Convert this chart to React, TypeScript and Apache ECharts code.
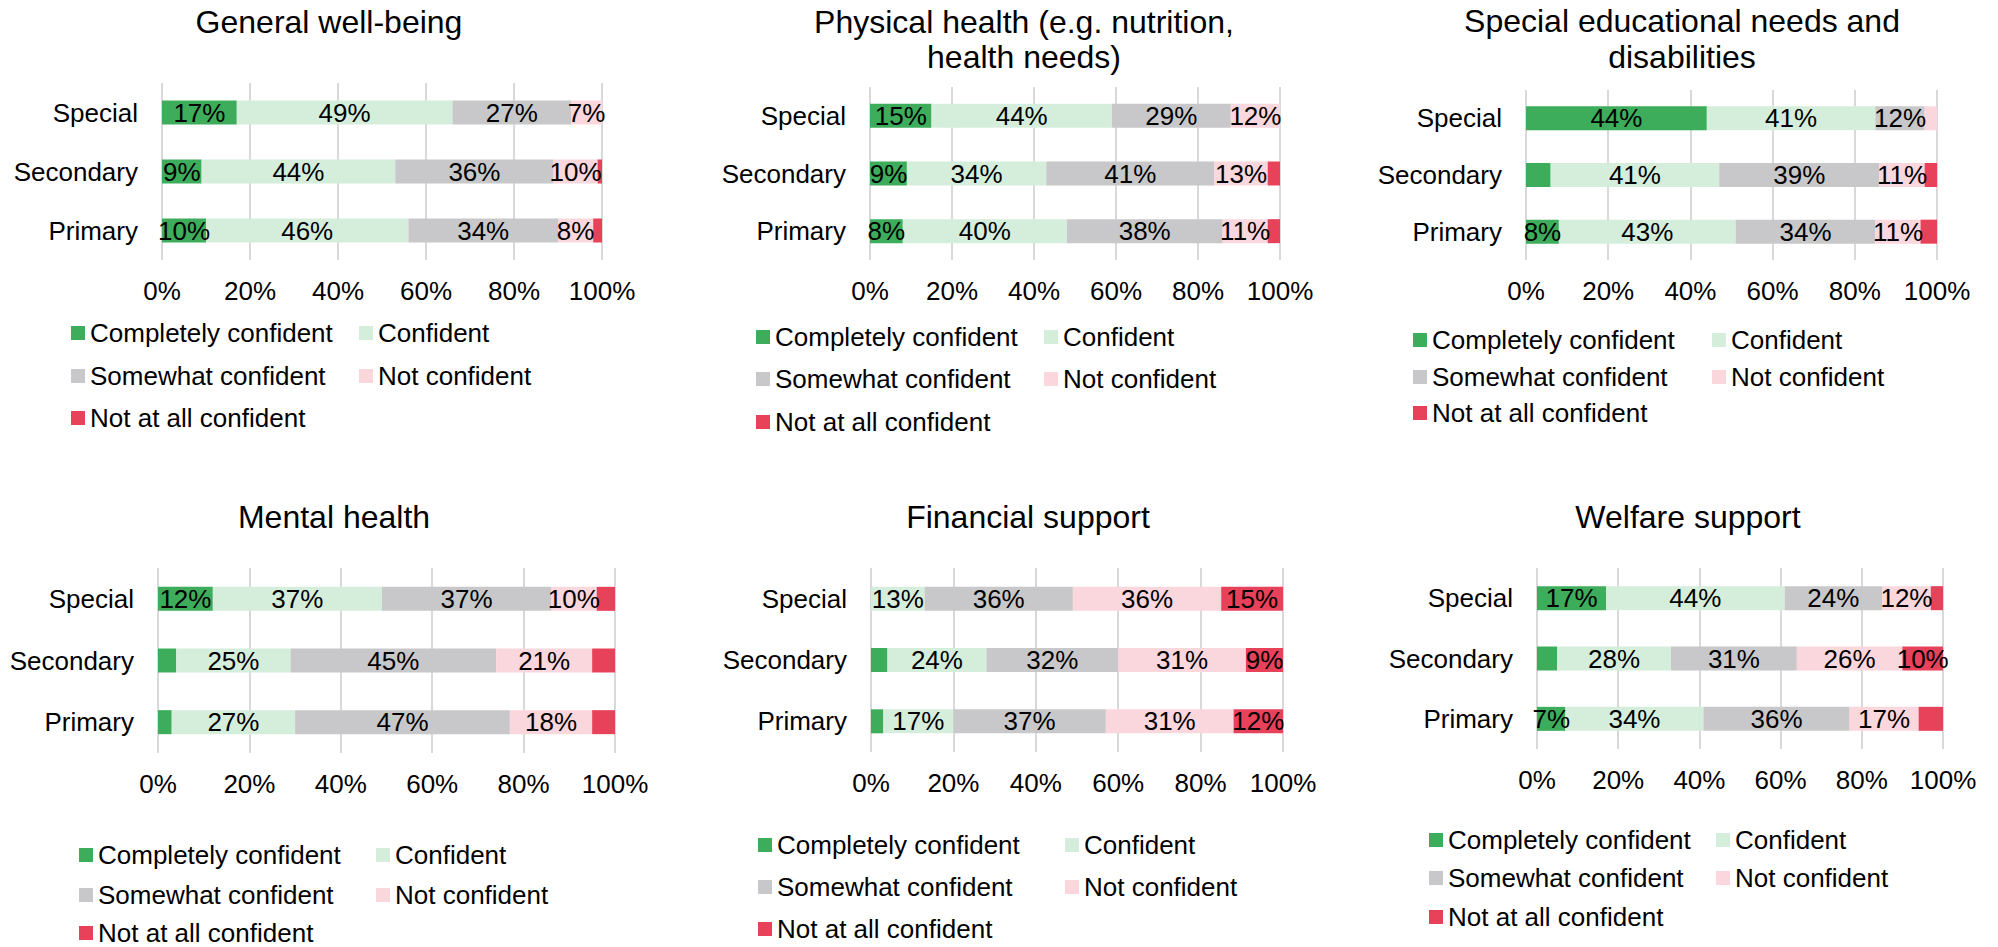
import React, { useEffect, useRef } from "react";
import * as echarts from "echarts";

const categories = ["Special", "Secondary", "Primary"];
const levels = [
  "Completely confident",
  "Confident",
  "Somewhat confident",
  "Not confident",
  "Not at all confident",
];
const levelColors = ["#3DAD5B", "#D5EEDC", "#C8C8CA", "#FAD6DD", "#E8415A"];

const titles = [
  "General well-being",
  "Physical health (e.g. nutrition,\nhealth needs)",
  "Special educational needs and\ndisabilities",
  "Mental health",
  "Financial support",
  "Welfare support",
];

// values per level: [Special, Secondary, Primary]
const wellbeing = [[17, 9, 10], [49, 44, 46], [27, 36, 34], [7, 10, 8], [0, 1, 2]];
const physical = [[15, 9, 8], [44, 34, 40], [29, 41, 38], [12, 13, 11], [0, 3, 3]];
const send = [[44, 6, 8], [41, 41, 43], [12, 39, 34], [3, 11, 11], [0, 3, 4]];
const mental = [[12, 4, 3], [37, 25, 27], [37, 45, 47], [10, 21, 18], [4, 5, 5]];
const financial = [[0, 4, 3], [13, 24, 17], [36, 32, 37], [36, 31, 31], [15, 9, 12]];
const welfare = [[17, 5, 7], [44, 28, 34], [24, 31, 36], [12, 26, 17], [3, 10, 6]];

const panelData = [wellbeing, physical, send, mental, financial, welfare];

const layouts = [
  { tx: 329, ty: 4, tlh: 35, gl: 162, gr: 602, gt: 83, gb: 260, lx1: 71, lx2: 359, ly: [333, 376, 418] },
  { tx: 1024, ty: 4, tlh: 35, gl: 870, gr: 1280, gt: 87, gb: 260, lx1: 756, lx2: 1044, ly: [337, 379, 422] },
  { tx: 1682, ty: 3, tlh: 36, gl: 1526, gr: 1937, gt: 90, gb: 260, lx1: 1413, lx2: 1712, ly: [340, 377, 413] },
  { tx: 334, ty: 499, tlh: 35, gl: 158, gr: 615, gt: 568, gb: 753, lx1: 79, lx2: 376, ly: [855, 895, 933] },
  { tx: 1028, ty: 499, tlh: 35, gl: 871, gr: 1283, gt: 568, gb: 752, lx1: 758, lx2: 1065, ly: [845, 887, 929] },
  { tx: 1688, ty: 499, tlh: 35, gl: 1537, gr: 1943, gt: 568, gb: 749, lx1: 1429, lx2: 1716, ly: [840, 878, 917] },
];

// legend slot of each level: [column, row]
const legendSlots = [[0, 0], [1, 0], [0, 1], [1, 1], [0, 2]];

const FONT = "'Liberation Sans', Arial, Helvetica, sans-serif";
const W = 1998;
const H = 947;

function buildOption() {
  const title: any[] = [];
  const grid: any[] = [];
  const xAxis: any[] = [];
  const yAxis: any[] = [];
  const legend: any[] = [];
  const series: any[] = [];

  layouts.forEach((L, p) => {
    title.push({
      text: titles[p],
      left: L.tx,
      top: L.ty,
      padding: 0,
      textAlign: "center",
      textVerticalAlign: "top",
      textStyle: {
        fontFamily: FONT,
        fontSize: 32,
        fontWeight: "normal",
        color: "#000",
        lineHeight: L.tlh,
      },
    });
    grid.push({
      left: L.gl,
      top: L.gt,
      width: L.gr - L.gl,
      height: L.gb - L.gt,
      containLabel: false,
    });
    xAxis.push({
      type: "value",
      gridIndex: p,
      min: 0,
      max: 100,
      interval: 20,
      axisLine: { show: false },
      axisTick: { show: false },
      splitLine: { show: true, lineStyle: { color: "#D9D9D9", width: 2 } },
      axisLabel: {
        formatter: "{value}%",
        fontFamily: FONT,
        fontSize: 26,
        color: "#000",
        margin: 18,
      },
    });
    yAxis.push({
      type: "category",
      gridIndex: p,
      data: categories,
      inverse: true,
      axisLine: { show: false },
      axisTick: { show: false },
      splitLine: { show: false },
      axisLabel: {
        fontFamily: FONT,
        fontSize: 26,
        color: "#000",
        margin: 24,
      },
    });

    levels.forEach((lvl, k) => {
      const [col, row] = legendSlots[k];
      legend.push({
        orient: "horizontal",
        left: col === 0 ? L.lx1 : L.lx2,
        top: L.ly[row] - 13,
        padding: 0,
        itemWidth: 14,
        itemHeight: 14,
        icon: "rect",
        data: [lvl],
        textStyle: { fontFamily: FONT, fontSize: 26, color: "#000", lineHeight: 26 },
      });
      series.push({
        name: lvl,
        type: "bar",
        xAxisIndex: p,
        yAxisIndex: p,
        stack: "panel" + p,
        barWidth: 24,
        data: panelData[p][k],
        itemStyle: { color: levelColors[k] },
        label: {
          show: true,
          position: "inside",
          fontFamily: FONT,
          fontSize: 26,
          color: "#000",
          formatter: (d: any) => (d.value >= 7 ? d.value + "%" : ""),
        },
        emphasis: { disabled: true },
      });
    });
  });

  return {
    animation: false,
    backgroundColor: "#fff",
    textStyle: { fontFamily: FONT },
    title,
    grid,
    xAxis,
    yAxis,
    legend,
    series,
  };
}

export default function App() {
  const ref = useRef<HTMLDivElement>(null);
  useEffect(() => {
    if (!ref.current) return;
    const chart = echarts.init(ref.current, undefined, { renderer: "svg" });
    chart.setOption(buildOption());
    return () => chart.dispose();
  }, []);
  return (
    <div
      ref={ref}
      style={{ position: "absolute", left: 0, top: 0, width: W, height: H, background: "#fff" }}
    />
  );
}
